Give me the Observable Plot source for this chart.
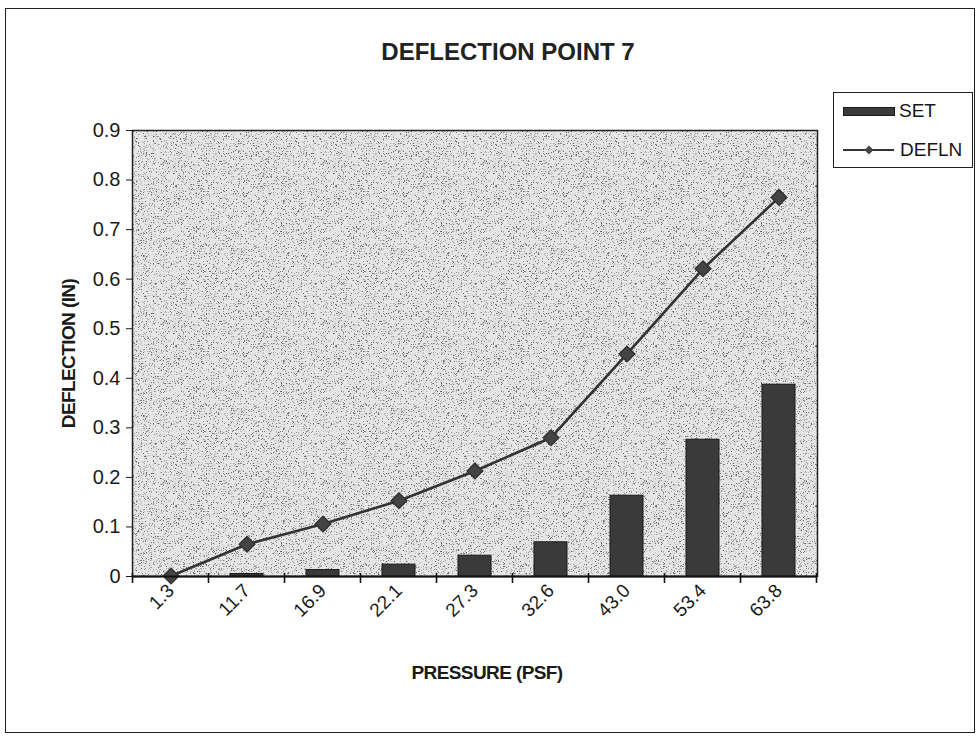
<!DOCTYPE html>
<html>
<head>
<meta charset="utf-8">
<script src="https://cdn.jsdelivr.net/npm/d3@7"></script>
<script src="https://cdn.jsdelivr.net/npm/@observablehq/plot@0.6"></script>
<style>
  html, body { margin: 0; padding: 0; background: #fff; }
  #wrap { position: relative; width: 980px; height: 736px; font-family: "Liberation Sans", Arial, sans-serif; color: #161616; }
  #border { position: absolute; left: 5px; top: 8px; width: 968px; height: 723px; border: 1px solid #222; }
  #title { position: absolute; left: 0; width: 1016px; top: 40px; line-height: 24px; text-align: center; font-weight: bold; font-size: 24px; color: #222; }
  #legend { position: absolute; left: 833px; top: 92px; width: 138px; height: 74px; border: 1.5px solid #222; background: #fff; font-size: 19px; }
  .lg { position: absolute; line-height: 19px; }
  #chart svg g[aria-label="x-axis label"] text, #chart svg g[aria-label="y-axis label"] text { font-weight: bold; font-size: 19px; letter-spacing: -0.6px; fill: #1a1a1a; }
  #chart { position: absolute; left: 0; top: 0; }
</style>
</head>
<body>
<div id="wrap">
  <div id="border"></div>
  <div id="chart"></div>
  <div id="title">DEFLECTION POINT 7</div>
  <div id="legend">
    <span style="position:absolute;left:9px;top:14px;width:50px;height:7px;background:#3b3b3b;border:1px solid #1a1a1a;"></span>
    <span class="lg" style="left:65px;top:8px;">SET</span>
    <svg style="position:absolute;left:9px;top:50px;" width="52" height="14"><line x1="0" y1="7" x2="51" y2="7" stroke="#333" stroke-width="2.2"/><path d="M26,2.5 L30.5,7 L26,11.5 L21.5,7 Z" fill="#444"/></svg>
    <span class="lg" style="left:66px;top:47px;">DEFLN</span>
  </div>
</div>
<script>
const pressure = ["1.3", "11.7", "16.9", "22.1", "27.3", "32.6", "43.0", "53.4", "63.8"];
const setValues = [0, 0.005, 0.013, 0.024, 0.042, 0.069, 0.163, 0.276, 0.387];
const deflnValues = [0.001, 0.065, 0.106, 0.153, 0.213, 0.28, 0.449, 0.621, 0.765];
const yTicks = [0, 0.1, 0.2, 0.3, 0.4, 0.5, 0.6, 0.7, 0.8, 0.9];

const data = pressure.map((p, i) => ({p, set: setValues[i], defln: deflnValues[i]}));

const plot = Plot.plot({
  width: 980,
  height: 736,
  marginLeft: 132,
  marginRight: 163,
  marginTop: 130,
  marginBottom: 160,
  style: {fontFamily: "Liberation Sans, Arial, sans-serif", fontSize: "19px", color: "#1a1a1a", background: "transparent", overflow: "visible"},
  x: {domain: pressure, paddingInner: 0.566, paddingOuter: 0.283},
  y: {domain: [0, 0.9]},
  marks: [
    Plot.frame({fill: "#e6e6e6", stroke: "none", ariaLabel: "plot-area"}),
    Plot.frame({stroke: "#222", strokeWidth: 1.5}),
    Plot.barY(data, {x: "p", y: "set", fill: "#3a3a3a", stroke: "#1a1a1a", strokeWidth: 1}),
    Plot.lineY(data, {x: "p", y: "defln", stroke: "#333", strokeWidth: 2.6}),
    Plot.dot(data, {x: "p", y: "defln", symbol: "diamond2", r: 7, fill: "#444", stroke: "#333"}),
    Plot.axisY({ticks: yTicks, tickFormat: d => d === 0 ? "0" : d.toFixed(1), tickSize: 6, tickPadding: 6, fontSize: 20, label: "DEFLECTION (IN)", labelAnchor: "center", labelOffset: 71, labelArrow: "none"}),
    Plot.axisX({tickSize: 0, tickRotate: -45, tickPadding: 11, fontSize: 19, label: "PRESSURE (PSF)", labelAnchor: "center", labelOffset: 102, labelArrow: "none"}),
    Plot.ruleY([0], {stroke: "#111", strokeWidth: 2})
  ]
});

// stipple texture filter for the plot area
const svg = d3.select(plot);
const defs = svg.insert("defs", ":first-child");
const f = defs.append("filter").attr("id", "stipple").attr("x", 0).attr("y", 0).attr("width", 1).attr("height", 1)
  .attr("color-interpolation-filters", "sRGB");
f.append("feTurbulence").attr("type", "fractalNoise").attr("baseFrequency", 1.6).attr("numOctaves", 1).attr("seed", 7).attr("result", "noise");
f.append("feColorMatrix").attr("in", "noise").attr("type", "matrix")
  .attr("values", "0 0 0 0 0.4  0 0 0 0 0.4  0 0 0 0 0.4  7 0 0 0 -3.95").attr("result", "dots");
f.append("feComposite").attr("in", "dots").attr("in2", "SourceGraphic").attr("operator", "atop");
svg.select('[aria-label="plot-area"]').attr("filter", "url(#stipple)");

document.getElementById("chart").appendChild(plot);

// category boundary ticks on the x axis, from Plot's band scale
const xs = plot.scale("x");
const ys = plot.scale("y");
const y0 = ys.apply(0);
const gap = (xs.step - xs.bandwidth) / 2;
const bounds = pressure.map(v => xs.apply(v) - gap);
bounds.push(xs.apply(pressure[pressure.length - 1]) + xs.bandwidth + gap);
svg.append("g").attr("stroke", "#111").attr("stroke-width", 1.6)
  .selectAll("line").data(bounds).join("line")
  .attr("x1", d => d).attr("x2", d => d)
  .attr("y1", y0 - 3).attr("y2", y0 + 7);
// shift x-axis title slightly right as in the original
const xl = svg.select('g[aria-label="x-axis label"]');
xl.attr("transform", ((xl.attr("transform") || "") + " translate(12,0)").trim());
</script>
</body>
</html>
